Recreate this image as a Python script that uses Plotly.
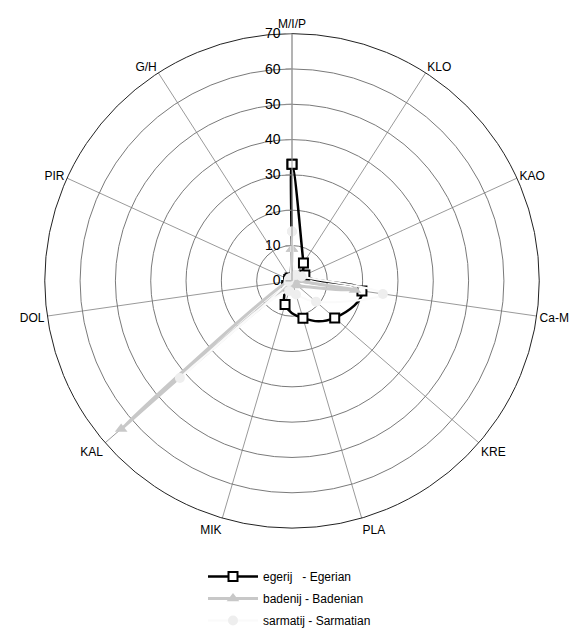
import plotly.graph_objects as go

categories = ["M/I/P", "KLO", "KAO", "Ca-M", "KRE", "PLA", "MIK", "KAL", "DOL", "PIR", "G/H"]
egerian = [33, 6, 4, 20, 16, 11, 7, 2, 1, 1, 1]
badenian = [9, 1, 1, 18, 2, 1, 1, 64, 1, 0, 0]
sarmatian = [14, 2, 3, 26, 9, 4, 3, 42, 1, 1, 1]
radial_ticks = [0, 10, 20, 30, 40, 50, 60, 70]

def closed(v):
    return list(v) + [v[0]]

theta = closed(categories)

fig = go.Figure()
fig.add_trace(go.Scatterpolar(
    r=closed(egerian), theta=theta, mode="lines+markers",
    name="egerij   - Egerian", legendgroup="a",
    line=dict(color="black", width=2.5, shape="spline", smoothing=1.3),
    marker=dict(symbol="square", size=9, color="white", line=dict(color="black", width=2)),
))
fig.add_trace(go.Scatterpolar(
    r=closed(badenian), theta=theta, mode="lines+markers",
    name="badenij - Badenian", legendgroup="b",
    line=dict(color="#c8c8c8", width=3, shape="spline", smoothing=1.3),
    marker=dict(symbol="triangle-up", size=11, color="#c8c8c8"),
))
fig.add_trace(go.Scatterpolar(
    r=closed(sarmatian), theta=theta, mode="lines+markers",
    name="sarmatij - Sarmatian", legendgroup="c",
    line=dict(color="#fafafa", width=2, shape="spline", smoothing=1.3),
    marker=dict(symbol="circle", size=10, color="#eeeeee"),
))

fig.update_layout(
    width=578, height=635,
    margin=dict(l=0, r=0, t=0, b=0),
    paper_bgcolor="white", plot_bgcolor="white",
    font=dict(family="Liberation Sans, Arial, sans-serif", size=12, color="black"),
    polar=dict(
        domain=dict(x=[42/578, 542/578], y=[1-534/635, 1-34/635]),
        bgcolor="white",
        angularaxis=dict(
            direction="clockwise", rotation=90,
            linecolor="#222222", linewidth=1,
            gridcolor="#9a9a9a", gridwidth=1,
            showticklabels=True, ticks="",
            tickfont=dict(size=12, color="black"),
        ),
        radialaxis=dict(
            range=[0, 70], tickvals=radial_ticks, angle=90, tickangle=90,
            side="counterclockwise",
            showline=True, linecolor="#999999", linewidth=1,
            gridcolor="#7a7a7a", gridwidth=1,
            ticks="outside", ticklen=6, tickcolor="#999999",
            tickfont=dict(size=14, color="black"),
        ),
    ),
    showlegend=True,
    legend=dict(
        x=203/578, xanchor="left", y=0.105, yanchor="top",
        font=dict(size=12, color="black"),
        bgcolor="rgba(0,0,0,0)",
        tracegroupgap=3, itemwidth=50,
    ),
)

fig.write_html("out.html", post_script="document.body.style.margin='0';",
               config={"displayModeBar": False})
